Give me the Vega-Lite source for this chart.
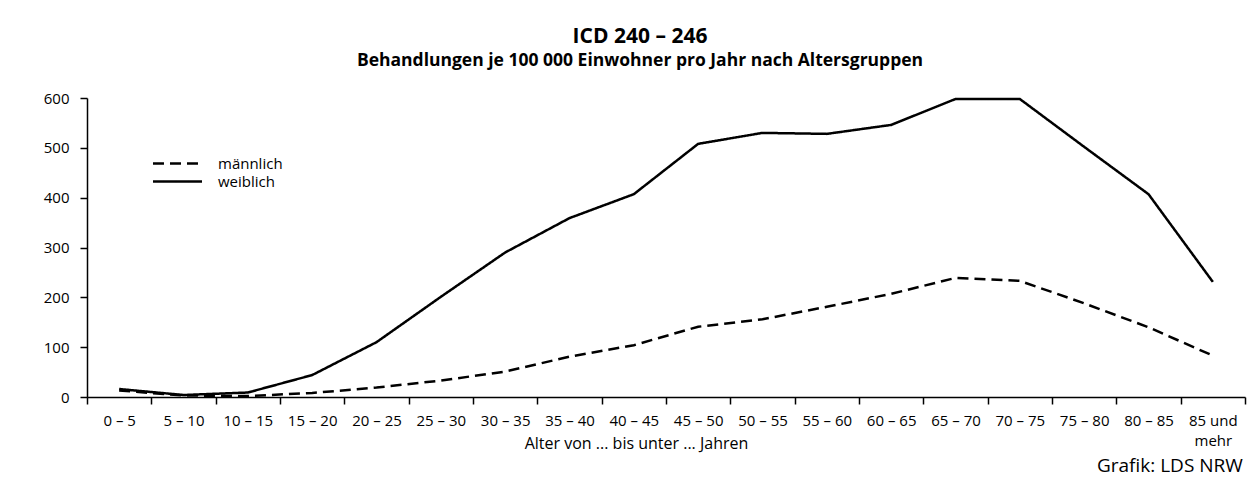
{
  "$schema": "https://vega.github.io/schema/vega-lite/v6.json",
  "autosize": "none",
  "width": 1158,
  "height": 299,
  "padding": {"left": 87, "top": 98, "right": 12, "bottom": 83},
  "background": "white",
  "config": {
    "view": {"stroke": null},
    "font": "Open Sans",
    "axis": {"labelFont": "Open Sans", "titleFont": "Open Sans", "labelColor": "black", "titleColor": "black", "domainColor": "black", "tickColor": "black", "domainWidth": 1.5, "tickWidth": 1.5, "grid": false}
  },
  "title": {
    "text": "ICD 240 – 246",
    "subtitle": "Behandlungen je 100 000 Einwohner pro Jahr nach Altersgruppen",
    "anchor": "middle",
    "dx": -26,
    "offset": 22,
    "font": "Open Sans",
    "fontSize": 21,
    "fontWeight": "bold",
    "color": "black",
    "subtitleFont": "Open Sans",
    "subtitleFontSize": 17.5,
    "subtitleFontWeight": "bold",
    "subtitleColor": "black",
    "subtitlePadding": 5
  },
  "data": {
    "values": [
      {"alter": "0 – 5", "geschlecht": "männlich", "wert": 13},
      {"alter": "5 – 10", "geschlecht": "männlich", "wert": 3},
      {"alter": "10 – 15", "geschlecht": "männlich", "wert": 2},
      {"alter": "15 – 20", "geschlecht": "männlich", "wert": 8},
      {"alter": "20 – 25", "geschlecht": "männlich", "wert": 19},
      {"alter": "25 – 30", "geschlecht": "männlich", "wert": 33},
      {"alter": "30 – 35", "geschlecht": "männlich", "wert": 51},
      {"alter": "35 – 40", "geschlecht": "männlich", "wert": 81},
      {"alter": "40 – 45", "geschlecht": "männlich", "wert": 104},
      {"alter": "45 – 50", "geschlecht": "männlich", "wert": 141},
      {"alter": "50 – 55", "geschlecht": "männlich", "wert": 156},
      {"alter": "55 – 60", "geschlecht": "männlich", "wert": 181},
      {"alter": "60 – 65", "geschlecht": "männlich", "wert": 207},
      {"alter": "65 – 70", "geschlecht": "männlich", "wert": 239},
      {"alter": "70 – 75", "geschlecht": "männlich", "wert": 233},
      {"alter": "75 – 80", "geschlecht": "männlich", "wert": 188},
      {"alter": "80 – 85", "geschlecht": "männlich", "wert": 140},
      {"alter": "85 und mehr", "geschlecht": "männlich", "wert": 83},
      {"alter": "0 – 5", "geschlecht": "weiblich", "wert": 16},
      {"alter": "5 – 10", "geschlecht": "weiblich", "wert": 4},
      {"alter": "10 – 15", "geschlecht": "weiblich", "wert": 9},
      {"alter": "15 – 20", "geschlecht": "weiblich", "wert": 44},
      {"alter": "20 – 25", "geschlecht": "weiblich", "wert": 110},
      {"alter": "25 – 30", "geschlecht": "weiblich", "wert": 201},
      {"alter": "30 – 35", "geschlecht": "weiblich", "wert": 290},
      {"alter": "35 – 40", "geschlecht": "weiblich", "wert": 359},
      {"alter": "40 – 45", "geschlecht": "weiblich", "wert": 407},
      {"alter": "45 – 50", "geschlecht": "weiblich", "wert": 508},
      {"alter": "50 – 55", "geschlecht": "weiblich", "wert": 530},
      {"alter": "55 – 60", "geschlecht": "weiblich", "wert": 528},
      {"alter": "60 – 65", "geschlecht": "weiblich", "wert": 546},
      {"alter": "65 – 70", "geschlecht": "weiblich", "wert": 598},
      {"alter": "70 – 75", "geschlecht": "weiblich", "wert": 598},
      {"alter": "75 – 80", "geschlecht": "weiblich", "wert": 502},
      {"alter": "80 – 85", "geschlecht": "weiblich", "wert": 407},
      {"alter": "85 und mehr", "geschlecht": "weiblich", "wert": 231}
    ]
  },
  "layer": [
    {
      "mark": {"type": "line", "color": "black", "strokeWidth": 2.5},
      "encoding": {
        "x": {
          "field": "alter", "type": "nominal", "sort": null,
          "scale": {"paddingInner": 0, "paddingOuter": 0, "domain": ["0 – 5", "5 – 10", "10 – 15", "15 – 20", "20 – 25", "25 – 30", "30 – 35", "35 – 40", "40 – 45", "45 – 50", "50 – 55", "55 – 60", "60 – 65", "65 – 70", "70 – 75", "75 – 80", "80 – 85", "85 und mehr"]},
          "axis": {
            "title": "Alter von ... bis unter ... Jahren",
            "titleFontWeight": "normal",
            "titleFontSize": 16,
            "titleX": 549,
            "titleY": 46,
            "titleBaseline": "middle",
            "labelAngle": 0,
            "labelFontSize": 15,
            "labelPadding": 9,
            "tickSize": 7,
            "tickBand": "extent",
            "labelExpr": "datum.value == '85 und mehr' ? ['85 und', '\u00a0\u00a0\u00a0\u00a0mehr'] : datum.value",
            "labelLineHeight": 20
          }
        },
        "y": {
          "field": "wert", "type": "quantitative",
          "scale": {"domain": [0, 600], "nice": false},
          "axis": {"title": null, "values": [0, 100, 200, 300, 400, 500, 600], "labelFontSize": 15, "tickSize": 7, "labelPadding": 11}
        },
        "strokeDash": {
          "field": "geschlecht", "type": "nominal",
          "scale": {"domain": ["männlich", "weiblich"], "range": [[11, 6], [1, 0]]},
          "legend": {
            "title": null,
            "orient": "none",
            "legendX": 81,
            "legendY": 56,
            "symbolType": "M-3,0H3",
            "symbolStrokeColor": "black",
            "symbolFillColor": "transparent",
            "symbolStrokeWidth": 2.5,
            "symbolSize": 267,
            "rowPadding": -6,
            "labelFontSize": 15,
            "labelFont": "Open Sans",
            "labelColor": "black",
            "labelOffset": 31
          }
        }
      }
    },
    {
      "data": {"values": [{"alter": "85 und mehr", "wert": 0, "text": "Grafik: LDS NRW"}]},
      "mark": {"type": "text", "align": "right", "baseline": "middle", "fontSize": 19, "font": "Open Sans", "color": "black", "dx": 30, "dy": 69},
      "encoding": {
        "x": {"field": "alter", "type": "nominal"},
        "y": {"field": "wert", "type": "quantitative"},
        "text": {"field": "text"}
      }
    }
  ]
}
